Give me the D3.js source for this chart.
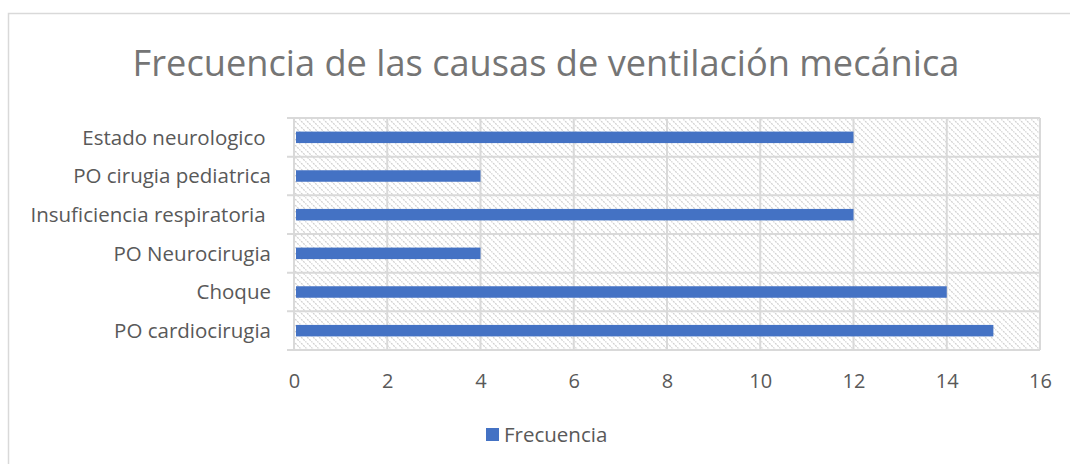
<!DOCTYPE html>
<html><head><meta charset="utf-8">
<script src="https://cdn.jsdelivr.net/npm/d3@7"></script>
<style>
body{margin:0;background:#fff;}
svg text{font-family:"Open Sans","Noto Sans",sans-serif;white-space:pre;}
</style></head>
<body><svg id="c" width="1070" height="464"></svg>
<script>
const categories = ["PO cardiocirugia","Choque","PO Neurocirugia","Insuficiencia respiratoria ","PO cirugia pediatrica","Estado neurologico "];
const values = [15,14,4,12,4,12];
const xTicks = [0,2,4,6,8,10,12,14,16];
const seriesName = "Frecuencia";
const title = "Frecuencia de las causas de ventilación mecánica";

const svg = d3.select("#c");
const m={left:294,right:1040,top:118,bottom:350};

svg.append("rect").attr("x",8.5).attr("y",13.5).attr("width",1080).attr("height",500)
  .attr("fill","#fff").attr("stroke","#d9d9d9").attr("stroke-width",1.5);

const defs=svg.append("defs");
const pat=defs.append("pattern").attr("id","hatch").attr("patternUnits","userSpaceOnUse")
  .attr("width",6).attr("height",6);
pat.append("rect").attr("width",6).attr("height",6).attr("fill","#fff");
pat.append("path").attr("d","M-1,-1 L7,7 M-1,5 L1,7 M5,-1 L7,1").attr("stroke","#d0d0d0").attr("stroke-width",1.2).attr("stroke-dasharray","2,1");

const x=d3.scaleLinear().domain([0,16]).range([m.left,m.right]);
const y=d3.scaleBand().domain(categories.slice().reverse()).range([m.top,m.bottom]);

svg.append("rect").attr("x",m.left).attr("y",m.top).attr("width",m.right-m.left).attr("height",m.bottom-m.top).attr("fill","url(#hatch)");

svg.append("g").selectAll("line").data(xTicks).join("line")
  .attr("x1",d=>x(d)).attr("x2",d=>x(d)).attr("y1",m.top).attr("y2",m.bottom)
  .attr("stroke","#d9d9d9").attr("stroke-width",2);
const bounds=categories.map(c=>y(c)).concat([m.bottom]);
svg.append("g").selectAll("line").data(bounds).join("line")
  .attr("x1",m.left-7).attr("x2",m.right).attr("y1",d=>d).attr("y2",d=>d)
  .attr("stroke","#d9d9d9").attr("stroke-width",2);

const bh=11.5;
svg.append("g").selectAll("rect").data(categories).join("rect")
  .attr("x",x(0)+2).attr("y",d=>y(d)+y.bandwidth()/2-bh/2)
  .attr("width",(d,i)=>x(values[i])-x(0)-2).attr("height",bh).attr("fill","#4472C4");

svg.append("g").selectAll("text").data(categories).join("text")
  .attr("x",271).attr("y",d=>y(d)+y.bandwidth()/2).attr("dy","0.35em")
  .attr("text-anchor","end").attr("font-size",20.5).attr("fill","#595959").text(d=>d);

const xAxis=d3.axisBottom(x).tickValues(xTicks).tickSize(0).tickPadding(24);
const gx=svg.append("g").attr("transform",`translate(0,${m.bottom})`).call(xAxis);
gx.select(".domain").remove();
gx.selectAll("text").attr("font-size",20).attr("fill","#595959").attr("font-family","Open Sans, sans-serif");

svg.append("text").attr("x",546).attr("y",76).attr("text-anchor","middle")
  .attr("font-size",36.2).attr("fill","#757575").text(title);

svg.append("rect").attr("x",486).attr("y",428).attr("width",13).attr("height",13).attr("fill","#4472C4");
svg.append("text").attr("x",504).attr("y",435).attr("dy","0.35em").attr("font-size",20.5).attr("fill","#595959").text(seriesName);
</script></body></html>
